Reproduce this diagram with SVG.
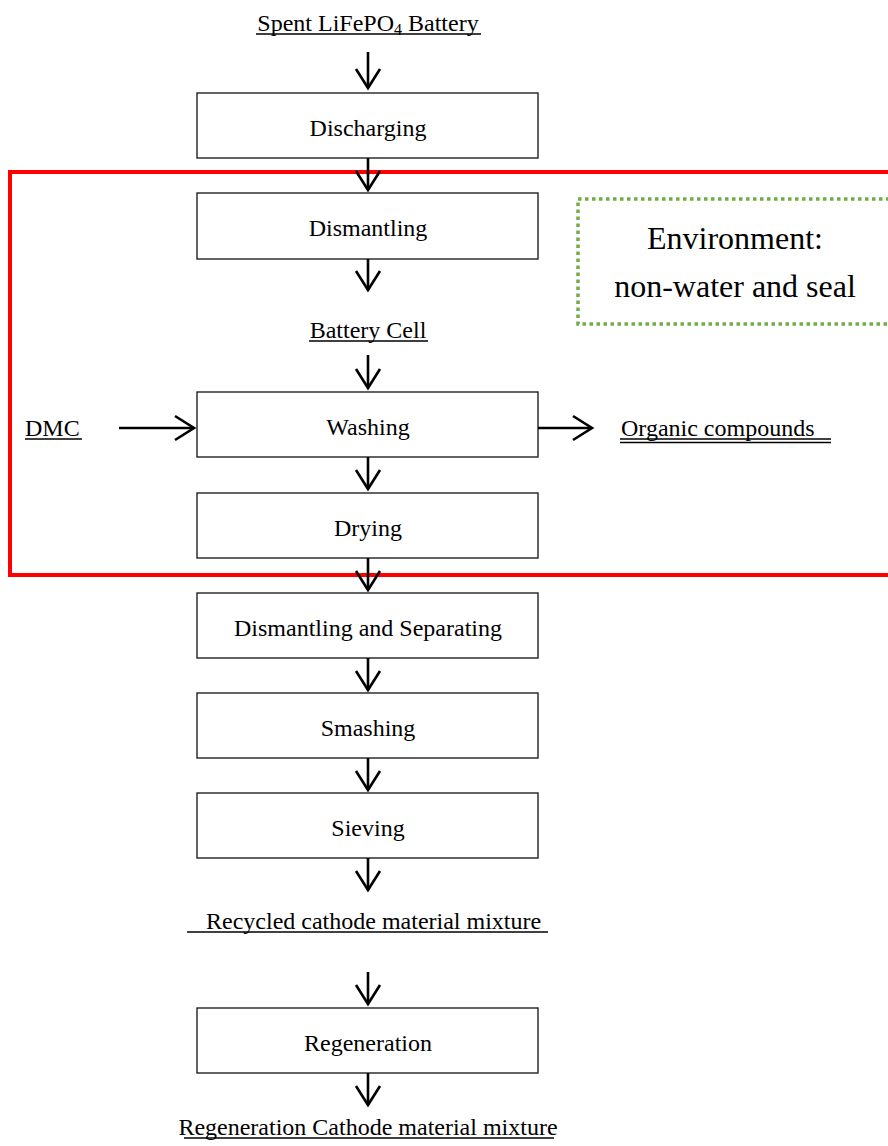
<svg xmlns="http://www.w3.org/2000/svg" width="888" height="1146" viewBox="0 0 888 1146">
<style>
  .box{fill:#fff;stroke:#222;stroke-width:1.4}
  .t{font-family:"Liberation Serif","Times New Roman",serif;font-size:24px;fill:#000;text-anchor:middle}
  .tl{font-family:"Liberation Serif","Times New Roman",serif;font-size:24px;fill:#000}
  .env{font-family:"Liberation Serif","Times New Roman",serif;font-size:32px;fill:#000;text-anchor:middle}
  .ul{stroke:#000;stroke-width:1.3}
  .con{stroke:#000;stroke-width:2.6;fill:none;marker-end:url(#vh)}
</style>
<defs>
  <marker id="vh" markerUnits="userSpaceOnUse" orient="auto" refX="0" refY="0" markerWidth="30" markerHeight="30" viewBox="-22 -15 25 30" overflow="visible">
    <path d="M-19,-12 L0,0 L-19,12" fill="none" stroke="#000" stroke-width="2.6"/>
  </marker>
</defs>
<rect width="888" height="1146" fill="#fff"/>

<g id="region-red">
  <rect x="10" y="172" width="900" height="403" fill="none" stroke="#ff0000" stroke-width="4"/>
</g>
<g id="environment">
  <rect x="578" y="199" width="330" height="125" fill="none" stroke="#70ad47" stroke-width="3.5" stroke-dasharray="3.5 3.5"/>
  <text class="env" x="735" y="249">Environment:</text>
  <text class="env" x="735" y="297">non-water and seal</text>
</g>

<g id="spent">
  <text class="t" x="368" y="31">Spent LiFePO<tspan font-size="16" dy="4">4</tspan><tspan dy="-4"> Battery</tspan></text>
  <line class="ul" x1="256" y1="34" x2="481" y2="34"/>
</g>
<g id="discharging">
  <rect class="box" x="197" y="93" width="341" height="65"/>
  <text class="t" x="368" y="136">Discharging</text>
</g>
<g id="dismantling">
  <rect class="box" x="197" y="193" width="341" height="66"/>
  <text class="t" x="368" y="236">Dismantling</text>
</g>
<g id="battery-cell">
  <text class="t" x="368" y="338">Battery Cell</text>
  <line class="ul" x1="309" y1="341" x2="428" y2="341"/>
</g>
<g id="washing">
  <rect class="box" x="197" y="392" width="341" height="65"/>
  <text class="t" x="368" y="435">Washing</text>
</g>
<g id="dmc">
  <text class="tl" x="25" y="436">DMC</text>
  <line class="ul" x1="25" y1="439" x2="82" y2="439"/>
</g>
<g id="organic">
  <text class="tl" x="621" y="436">Organic compounds</text>
  <line class="ul" x1="620" y1="439" x2="831" y2="439"/>
  <line class="ul" x1="620" y1="442.5" x2="831" y2="442.5"/>
</g>
<g id="drying">
  <rect class="box" x="197" y="493" width="341" height="65"/>
  <text class="t" x="368" y="536">Drying</text>
</g>
<g id="dismantling-separating">
  <rect class="box" x="197" y="593" width="341" height="65"/>
  <text class="t" x="368" y="636">Dismantling and Separating</text>
</g>
<g id="smashing">
  <rect class="box" x="197" y="693" width="341" height="65"/>
  <text class="t" x="368" y="736">Smashing</text>
</g>
<g id="sieving">
  <rect class="box" x="197" y="793" width="341" height="65"/>
  <text class="t" x="368" y="836">Sieving</text>
</g>
<g id="recycled">
  <text class="tl" x="206" y="929">Recycled cathode material mixture</text>
  <line class="ul" x1="187" y1="932" x2="548" y2="932"/>
</g>
<g id="regeneration">
  <rect class="box" x="197" y="1008" width="341" height="65"/>
  <text class="t" x="368" y="1051">Regeneration</text>
</g>
<g id="regenerated">
  <text class="t" x="368" y="1135">Regeneration Cathode material mixture</text>
  <line class="ul" x1="184" y1="1138" x2="554" y2="1138"/>
</g>

<g id="connectors">
  <path class="con" d="M368 52 V88"/>
  <path class="con" d="M368 158 V190"/>
  <path class="con" d="M368 259 V290"/>
  <path class="con" d="M368 355 V388"/>
  <path class="con" d="M368 457 V489"/>
  <path class="con" d="M368 558 V590"/>
  <path class="con" d="M368 658 V690"/>
  <path class="con" d="M368 758 V790"/>
  <path class="con" d="M368 858 V890"/>
  <path class="con" d="M368 972 V1004"/>
  <path class="con" d="M368 1073 V1105"/>
  <path class="con" d="M119 428 H194"/>
  <path class="con" d="M538 428 H592"/>
</g>
</svg>
